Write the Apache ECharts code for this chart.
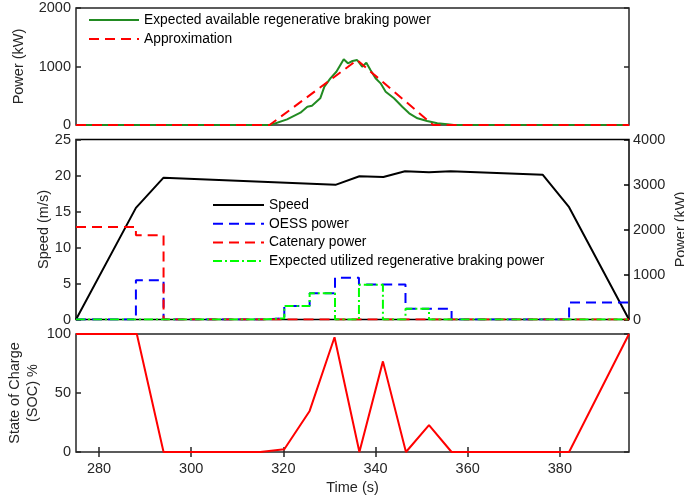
<!DOCTYPE html>
<html>
<head>
<meta charset="utf-8">
<script src="https://cdn.jsdelivr.net/npm/echarts@6/dist/echarts.min.js"></script>
<style>
  html, body { margin: 0; padding: 0; background: #fff; }
  #chart { width: 684px; height: 501px; }
</style>
</head>
<body>
<div id="chart"></div>
<script>
// x ticks shared by all panels
const xTicks = [280, 300, 320, 340, 360, 380];

// top panel: available regenerative braking power (kW)
const availTime = [275, 317.2, 320.8, 323.7, 325.2, 326.2, 328.0, 328.9, 330.2, 331.5, 333.1, 334.0, 335.0, 336.0, 337.1, 338.0, 338.9, 340.0, 341.1, 342.2, 344.0, 345.8, 347.3, 349.1, 351.2, 353.4, 355.6, 357.0, 395];
const availPower = [0, 0, 97, 210, 313, 330, 456, 655, 798, 911, 1123, 1054, 1094, 1111, 997, 1065, 940, 798, 712, 570, 456, 313, 200, 114, 68, 29, 12, 0, 0];
const approxTime = [275, 317, 336, 352.5, 395];
const approxPower = [0, 0, 1110, 0, 0];

// middle panel: speed (m/s)
const speedTime = [275, 288, 294, 331.3, 336.5, 341.7, 346.4, 351.6, 356.3, 376.3, 382, 395];
const speedVal = [0, 15.5, 19.7, 18.7, 19.9, 19.8, 20.6, 20.45, 20.6, 20.1, 15.6, 0];

// middle panel: step powers (kW), each value held until the next time
const oessTime = [275, 288, 294, 315.5, 320.2, 325.7, 331.2, 336.4, 346.5, 356.5, 382, 395];
const oessPower = [0, 870, 0, 25, 300, 585, 930, 780, 240, 0, 380, 380];
const catTime = [275, 288, 294, 395];
const catPower = [2055, 1870, 0, 0];
const utilTime = [275, 315.5, 320.2, 325.7, 331.2, 336.4, 341.6, 346.5, 351.6, 395];
const utilPower = [0, 25, 300, 585, 0, 770, 0, 240, 0, 0];

// bottom panel: state of charge (%)
const socTime = [275, 288.2, 294, 315, 320.2, 325.7, 331.1, 336.5, 341.6, 346.6, 351.6, 356.5, 382, 395];
const socVal = [100, 100, 0, 0, 2.3, 34.8, 97.2, 0, 76.8, 0, 22.7, 0, 0, 100];

const zip = (a, b) => a.map((t, i) => [t, b[i]]);

const FONT = 'Liberation Sans, Arial, Helvetica, sans-serif';
const AX = '#262626';
const textStyle = { fontFamily: FONT, fontSize: 14.5, color: AX };
const plain = (v) => String(v);

const chart = echarts.init(document.getElementById('chart'), null, { renderer: 'canvas' });

const gridBase = {
  left: 76, right: 55, show: true, borderColor: AX, borderWidth: 1.5,
  backgroundColor: '#fff', outerBoundsMode: 'none', containLabel: false
};

const hiddenX = (gi) => ({
  type: 'value', gridIndex: gi, min: 275, max: 395,
  axisLine: { show: false }, axisTick: { show: false },
  axisLabel: { show: false }, splitLine: { show: false }
});

const yAxisLeft = (gi, max, interval, extra) => Object.assign({
  type: 'value', gridIndex: gi, min: 0, max: max, interval: interval,
  position: 'left',
  axisLine: { show: false },
  axisTick: { show: true, inside: true, length: 5, lineStyle: { color: AX, width: 1.5 } },
  axisLabel: Object.assign({ margin: 5, formatter: plain }, textStyle),
  splitLine: { show: false },
  nameLocation: 'middle',
  nameMoveOverlap: false,
  nameTextStyle: textStyle
}, extra || {});

const yAxisRightTicks = (gi, max, interval) => ({
  type: 'value', gridIndex: gi, min: 0, max: max, interval: interval,
  position: 'right',
  axisLine: { show: false },
  axisTick: { show: true, inside: true, length: 5, lineStyle: { color: AX, width: 1.5 } },
  axisLabel: { show: false },
  splitLine: { show: false }
});

const legendBase = {
  orient: 'vertical', padding: 0, itemWidth: 50, itemHeight: 14,
  itemStyle: { opacity: 0 },
  textStyle: { fontFamily: FONT, fontSize: 13.8, color: '#000' }
};

const option = {
  animation: false,
  textStyle: { fontFamily: FONT },
  grid: [
    Object.assign({ top: 8, height: 117 }, gridBase),
    Object.assign({ top: 139.5, height: 180 }, gridBase, { borderColor: '#000' }),
    Object.assign({ top: 334, height: 118 }, gridBase)
  ],
  legend: [
    Object.assign({}, legendBase, {
      left: 88, top: 13, itemGap: 5,
      data: ['Expected available regenerative braking power', 'Approximation']
    }),
    Object.assign({}, legendBase, {
      left: 212, top: 198, itemWidth: 51, itemGap: 4.7,
      data: ['Speed', 'OESS power', 'Catenary power', 'Expected utilized regenerative braking power']
    })
  ],
  xAxis: [
    hiddenX(0),
    hiddenX(1),
    {
      type: 'value', gridIndex: 2, min: 275, max: 395,
      axisLine: { show: false },
      axisTick: { show: true, inside: true, length: 5, customValues: xTicks, lineStyle: { color: AX, width: 1.5 } },
      axisLabel: Object.assign({ margin: 9, customValues: xTicks }, textStyle),
      splitLine: { show: false },
      name: 'Time (s)', nameLocation: 'middle', nameGap: 28, nameMoveOverlap: false,
      nameTextStyle: textStyle
    },
    {
      type: 'value', gridIndex: 2, min: 275, max: 395, position: 'top',
      axisLine: { show: false },
      axisTick: { show: true, inside: true, length: 5, customValues: xTicks, lineStyle: { color: AX, width: 1.5 } },
      axisLabel: { show: false },
      splitLine: { show: false }
    }
  ],
  yAxis: [
    yAxisLeft(0, 2000, 1000, { name: 'Power (kW)', nameGap: 50 }),
    yAxisRightTicks(0, 2000, 1000),
    yAxisLeft(1, 25, 5, { name: 'Speed (m/s)', nameGap: 25 }),
    {
      type: 'value', gridIndex: 1, min: 0, max: 4000, interval: 1000,
      position: 'right',
      axisLine: { show: false },
      axisTick: { show: true, inside: true, length: 5, lineStyle: { color: '#000', width: 1.5 } },
      axisLabel: Object.assign({ margin: 4, formatter: plain }, textStyle),
      splitLine: { show: false },
      name: 'Power (kW)', nameLocation: 'middle', nameGap: 44, nameRotate: 90,
      nameMoveOverlap: false,
      nameTextStyle: textStyle
    },
    yAxisLeft(2, 100, 50, {
      name: 'State of Charge\n(SOC) %', nameGap: 34,
      nameTextStyle: Object.assign({ lineHeight: 18 }, textStyle)
    }),
    yAxisRightTicks(2, 100, 50)
  ],
  series: [
    {
      name: 'Expected available regenerative braking power', type: 'line',
      xAxisIndex: 0, yAxisIndex: 0, symbol: 'none',
      lineStyle: { color: '#228b22', width: 2 }, itemStyle: { color: '#228b22' },
      data: zip(availTime, availPower)
    },
    {
      name: 'Approximation', type: 'line',
      xAxisIndex: 0, yAxisIndex: 0, symbol: 'none',
      lineStyle: { color: '#ff0000', width: 2, type: [10, 6] }, itemStyle: { color: '#ff0000' },
      data: zip(approxTime, approxPower)
    },
    {
      name: 'Speed', type: 'line',
      xAxisIndex: 1, yAxisIndex: 2, symbol: 'none',
      lineStyle: { color: '#000', width: 2 }, itemStyle: { color: '#000' },
      data: zip(speedTime, speedVal)
    },
    {
      name: 'OESS power', type: 'line', step: 'end',
      xAxisIndex: 1, yAxisIndex: 3, symbol: 'none',
      lineStyle: { color: '#0000ff', width: 2, type: [10, 6] }, itemStyle: { color: '#0000ff' },
      data: zip(oessTime, oessPower)
    },
    {
      name: 'Catenary power', type: 'line', step: 'end',
      xAxisIndex: 1, yAxisIndex: 3, symbol: 'none',
      lineStyle: { color: '#ff0000', width: 2, type: [10, 6] }, itemStyle: { color: '#ff0000' },
      data: zip(catTime, catPower)
    },
    {
      name: 'Expected utilized regenerative braking power', type: 'line', step: 'end',
      xAxisIndex: 1, yAxisIndex: 3, symbol: 'none',
      lineStyle: { color: '#00ff00', width: 2, type: [9, 3, 2, 3] }, itemStyle: { color: '#00ff00' },
      data: zip(utilTime, utilPower)
    },
    {
      name: 'SOC', type: 'line',
      xAxisIndex: 2, yAxisIndex: 4, symbol: 'none',
      lineStyle: { color: '#ff0000', width: 2 }, itemStyle: { color: '#ff0000' },
      data: zip(socTime, socVal)
    }
  ]
};

chart.setOption(option);
</script>
</body>
</html>
